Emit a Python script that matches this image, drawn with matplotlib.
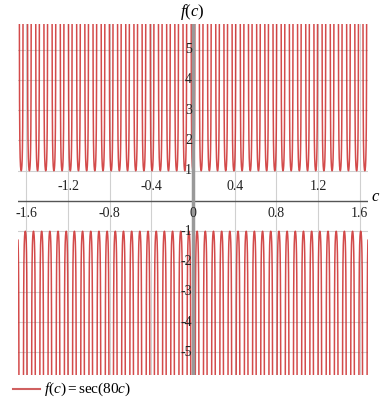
import numpy as np
import matplotlib
matplotlib.use("Agg")
import matplotlib.pyplot as plt

# data
freq = 80
x_min, x_max = -1.68, 1.68
y_min, y_max = -5.75, 5.85
x_ticks_above = [-1.2, -0.4, 0.4, 1.2]
x_ticks_below = [-1.6, -0.8, 0, 0.8, 1.6]
y_ticks = [-5, -4, -3, -2, -1, 1, 2, 3, 4, 5]
legend_label = r"$f(c) = \mathrm{sec}(80c)$"

plt.rcParams['font.family'] = ['Liberation Serif', 'DejaVu Serif']
plt.rcParams['mathtext.fontset'] = 'custom'
plt.rcParams['mathtext.it'] = 'Liberation Serif:italic'
plt.rcParams['mathtext.rm'] = 'Liberation Serif'

fig = plt.figure(figsize=(3.84, 4.09), dpi=100)
ax = fig.add_axes([18/384, 1-375/409, 350/384, 351/409])

c = np.linspace(x_min, x_max, 60001)
y = 1/np.cos(freq*c)
y[np.abs(y) > 12] = np.nan
ax.plot(c, y, color='#cc2b2b', lw=1.1, alpha=0.85, zorder=3)

ax.set_xlim(x_min, x_max)
ax.set_ylim(y_min, y_max)
for s in ax.spines.values():
    s.set_visible(False)
ax.set_xticks([])
ax.set_yticks([])

# grid
for xv in x_ticks_above + x_ticks_below:
    if xv != 0:
        ax.axvline(xv, color='#d0d0d0', lw=0.8, zorder=1)
for yv in y_ticks:
    ax.axhline(yv, color='#d0d0d0', lw=0.8, zorder=1)

# axes
ax.axhline(0, color='#555555', lw=1.0, zorder=4)
ax.axvline(0, color='#999999', lw=2.5, zorder=4)

fs = 10
for xv in x_ticks_above:
    ax.text(xv, 0.25, f"{xv:g}", ha='center', va='bottom', fontsize=fs, color='#222222', zorder=5)
for xv in x_ticks_below:
    ax.text(xv, -0.2, f"{xv:g}", ha='center', va='top', fontsize=fs, color='#222222', zorder=5)
for yv in y_ticks:
    ax.text(-0.01, yv, f"{yv:g}", ha='right', va='center', fontsize=fs, color='#222222', zorder=5)

fig.text(192/384, 1-12/409, r"$f(c)$", ha='center', va='center', fontsize=12)
fig.text(376/384, 1-197/409, r"$c$", ha='center', va='center', fontsize=12)

# legend
fig.lines.append(plt.Line2D([13/384, 40/384], [1-389/409, 1-389/409], color='#d06060', lw=1.5, transform=fig.transFigure))
fig.text(44/384, 1-389/409, legend_label, ha='left', va='center', fontsize=11)

fig.savefig("out.png", dpi=100)
